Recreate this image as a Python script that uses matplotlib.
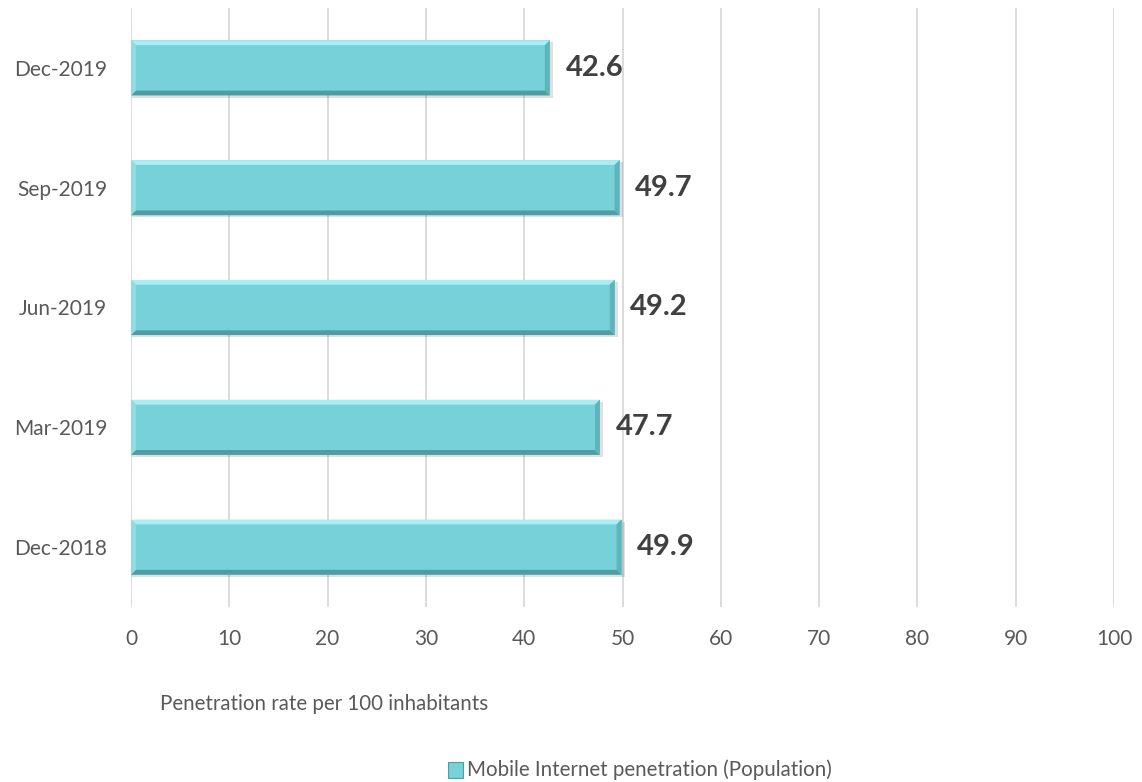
import matplotlib.pyplot as plt
from matplotlib.patches import Polygon

periods = ["Dec-2018", "Mar-2019", "Jun-2019", "Sep-2019", "Dec-2019"]
penetration = [49.9, 47.7, 49.2, 49.7, 42.6]
x_ticks = [0, 10, 20, 30, 40, 50, 60, 70, 80, 90, 100]

face = "#76D1D9"
light = "#A8EEF3"
dark = "#4F9CA3"
side_dark = "#5FB4BB"
side_light = "#8FDDE3"

plt.rcParams["font.family"] = ["Lato", "DejaVu Sans"]

fig = plt.figure(figsize=(11.42, 7.82), dpi=100)
ax = fig.add_axes([0.1147, 0.2238, 0.8608, 0.766])

h = 0.46
ypos = list(range(len(periods)))

# drop shadow under each bar
ax.barh([y - 0.018 for y in ypos], [v + 0.25 for v in penetration], height=h,
        left=0.1, color="#000000", alpha=0.12, zorder=2)
bars = ax.barh(ypos, penetration, height=h, color=face, edgecolor="none", zorder=3)

# bevelled edges
bx = 0.5    # bevel width in x data units
by = 0.04   # bevel width in y data units
for y, v in zip(ypos, penetration):
    y0, y1 = y - h / 2, y + h / 2
    top = Polygon([(0, y1), (v, y1), (v - bx, y1 - by), (bx, y1 - by)],
                  closed=True, color=light, zorder=4, lw=0)
    bot = Polygon([(0, y0), (v, y0), (v - bx, y0 + by), (bx, y0 + by)],
                  closed=True, color=dark, zorder=4, lw=0)
    right = Polygon([(v, y0), (v, y1), (v - bx, y1 - by), (v - bx, y0 + by)],
                    closed=True, color=side_dark, zorder=4, lw=0)
    left = Polygon([(0, y0), (0, y1), (bx, y1 - by), (bx, y0 + by)],
                   closed=True, color=side_light, zorder=4, lw=0)
    for p in (top, bot, right, left):
        ax.add_patch(p)
    ax.text(v + 1.6, y, f"{v:.1f}", va="center", ha="left", fontsize=21,
            fontweight="bold", color="#404040", zorder=5)

ax.set_xlim(0, 100)
ax.set_ylim(-0.5, len(periods) - 0.5)
ax.set_xticks(x_ticks)
ax.set_yticks(ypos)
ax.set_yticklabels(periods)
ax.tick_params(axis="both", length=0, labelsize=15, labelcolor="#595959")
ax.tick_params(axis="x", pad=16)
ax.tick_params(axis="y", pad=17)
ax.grid(axis="x", color="#D9D9D9", lw=1.3, zorder=0)
ax.set_axisbelow(True)
for s in ax.spines.values():
    s.set_visible(False)

fig.text(160 / 1142, 1 - 704 / 782, "Penetration rate per 100 inhabitants",
         fontsize=14.8, color="#595959", va="center", ha="left")

# legend
fig.patches.append(plt.Rectangle((448 / 1142, 1 - 778 / 782), 15 / 1142, 16 / 782,
                                 transform=fig.transFigure, facecolor=face,
                                 edgecolor=dark, lw=0.8))
fig.text(467 / 1142, 1 - 770 / 782, "Mobile Internet penetration (Population)",
         fontsize=14.8, color="#595959", va="center", ha="left")

fig.savefig("out.png", dpi=100)
